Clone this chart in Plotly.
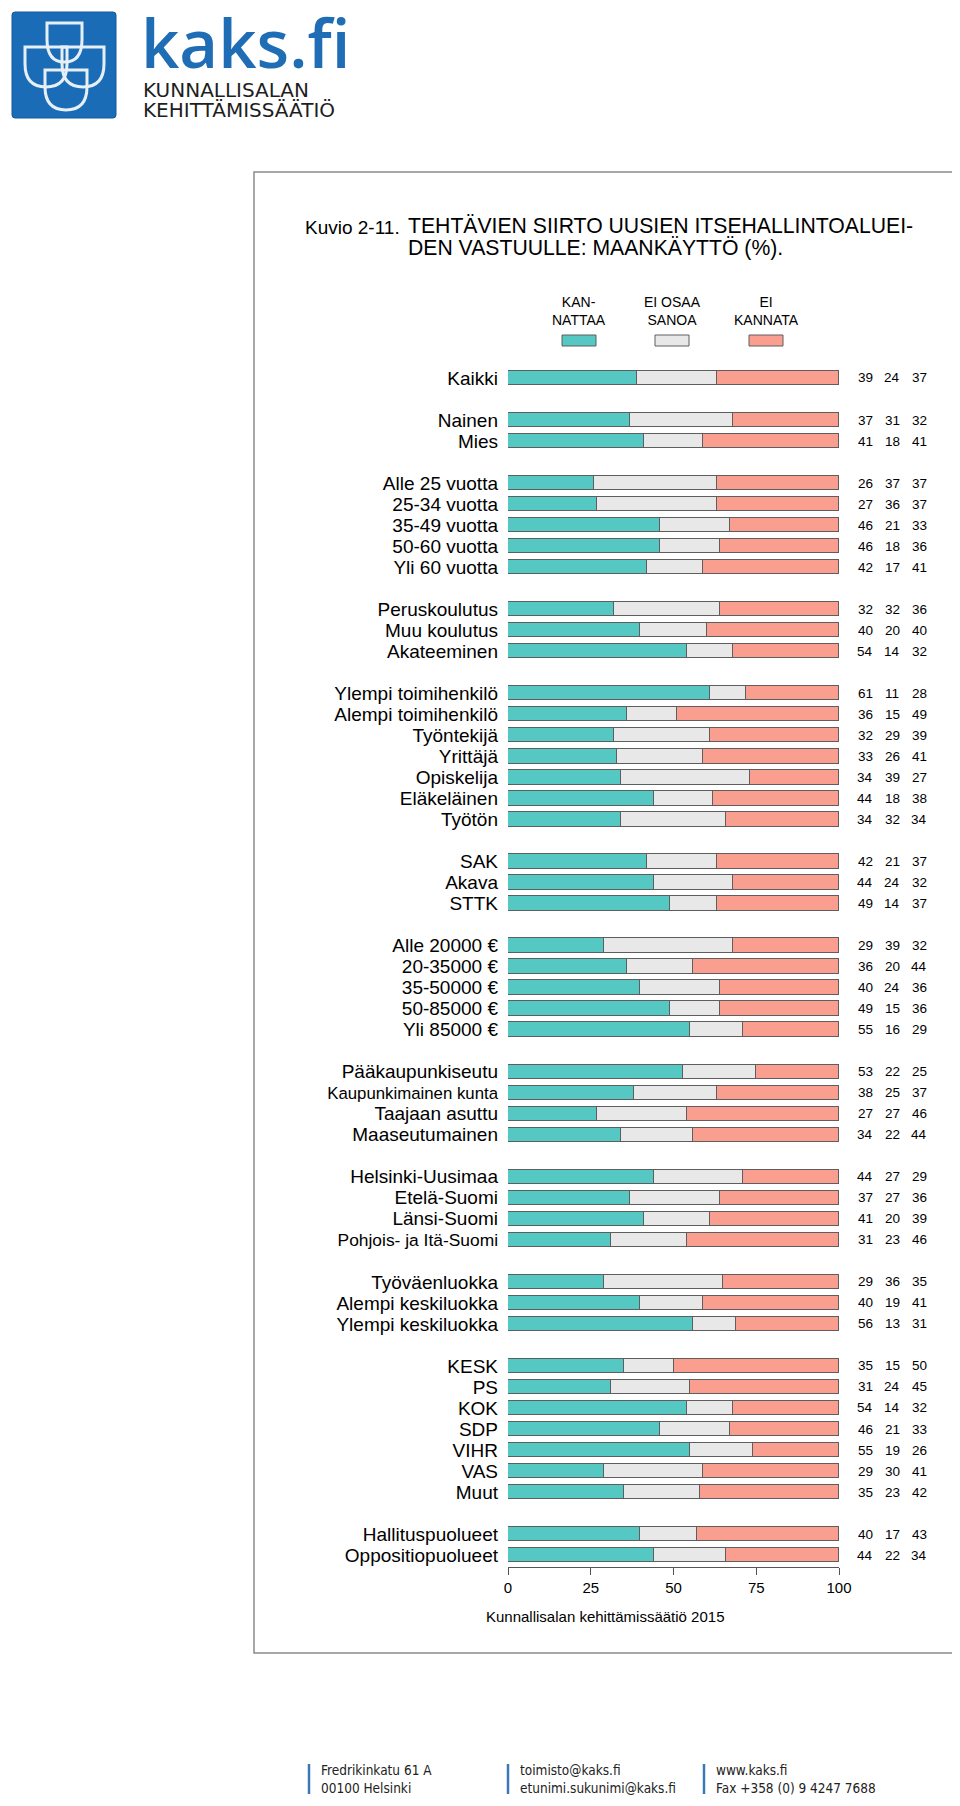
import plotly.graph_objects as go

# ---------------- data ----------------
categories = [
    "Kaikki",
    "Nainen", "Mies",
    "Alle 25 vuotta", "25-34 vuotta", "35-49 vuotta", "50-60 vuotta", "Yli 60 vuotta",
    "Peruskoulutus", "Muu koulutus", "Akateeminen",
    "Ylempi toimihenkilö", "Alempi toimihenkilö", "Työntekijä", "Yrittäjä", "Opiskelija", "Eläkeläinen", "Työtön",
    "SAK", "Akava", "STTK",
    "Alle 20000 €", "20-35000 €", "35-50000 €", "50-85000 €", "Yli 85000 €",
    "Pääkaupunkiseutu", "Kaupunkimainen kunta", "Taajaan asuttu", "Maaseutumainen",
    "Helsinki-Uusimaa", "Etelä-Suomi", "Länsi-Suomi", "Pohjois- ja Itä-Suomi",
    "Työväenluokka", "Alempi keskiluokka", "Ylempi keskiluokka",
    "KESK", "PS", "KOK", "SDP", "VIHR", "VAS", "Muut",
    "Hallituspuolueet", "Oppositiopuolueet",
]
group_sizes = [1, 2, 5, 3, 7, 3, 5, 4, 4, 3, 7, 2]
# labels that are set narrower in the original (to fit the label column)
small_labels = {"Kaupunkimainen kunta": 16.8, "Pohjois- ja Itä-Suomi": 17.4}

kannattaa = [39, 37, 41, 26, 27, 46, 46, 42, 32, 40, 54, 61, 36, 32, 33, 34, 44, 34,
             42, 44, 49, 29, 36, 40, 49, 55, 53, 38, 27, 34, 44, 37, 41, 31,
             29, 40, 56, 35, 31, 54, 46, 55, 29, 35, 40, 44]
ei_osaa = [24, 31, 18, 37, 36, 21, 18, 17, 32, 20, 14, 11, 15, 29, 26, 39, 18, 32,
           21, 24, 14, 39, 20, 24, 15, 16, 22, 25, 27, 22, 27, 27, 20, 23,
           36, 19, 13, 15, 24, 14, 21, 19, 30, 23, 17, 22]
ei_kannata = [37, 32, 41, 37, 37, 33, 36, 41, 36, 40, 32, 28, 49, 39, 41, 27, 38, 34,
              37, 32, 37, 32, 44, 36, 36, 29, 25, 37, 46, 44, 29, 36, 39, 46,
              35, 41, 31, 50, 45, 32, 33, 26, 41, 42, 43, 34]

series_names = ["KAN-<br>NATTAA", "EI OSAA<br>SANOA", "EI<br>KANNATA"]
series_colors = ["#55C8C4", "#E8E8E8", "#FA9E90"]
x_ticks = [0, 25, 50, 75, 100]

title_prefix = "Kuvio 2-11."
title_lines = ["TEHTÄVIEN SIIRTO UUSIEN ITSEHALLINTOALUEI-", "DEN VASTUULLE: MAANKÄYTTÖ (%)."]
source_text = "Kunnallisalan kehittämissäätiö 2015"
footer_blocks = [["Fredrikinkatu 61 A", "00100 Helsinki"],
                 ["toimisto@kaks.fi", "etunimi.sukunimi@kaks.fi"],
                 ["www.kaks.fi", "Fax +358 (0) 9 4247 7688"]]

# ---------------- layout geometry ----------------
# page has an 8px body margin -> figure is placed at (8, 8)
OFF = 8
W, H = 960 - OFF, 1806 - OFF
PLOT_X0, PLOT_X1 = 508, 839          # page px of 0 and 100
PLOT_Y0, PLOT_Y1 = 360, 1567         # page px of plot top / axis line
L, R = PLOT_X0 - OFF, W - (PLOT_X1 - OFF)
T, B = PLOT_Y0 - OFF, H - (PLOT_Y1 - OFF)
PW, PH = W - L - R, H - T - B
ROW0_PX = 378.0
STEP_PX = 21.02
y_top = (PLOT_Y0 - ROW0_PX) / STEP_PX
y_bot = (PLOT_Y1 - ROW0_PX) / STEP_PX


def px(xp):
    return (xp - OFF - L) / PW


def py(yp):
    return (H - B - (yp - OFF)) / PH


rows = []
slot = 0
for g in group_sizes:
    for _ in range(g):
        rows.append(slot)
        slot += 1
    slot += 1

tick_text = [f'<span style="font-size:{small_labels[c]}px">{c}</span>' if c in small_labels else c
             for c in categories]

FONT = "Arial, Liberation Sans, sans-serif"

fig = go.Figure()
for name, vals, col in zip(series_names, [kannattaa, ei_osaa, ei_kannata], series_colors):
    fig.add_trace(go.Bar(
        y=rows, x=vals, orientation="h", name=name,
        marker=dict(color=col, line=dict(color="#5E5E5E", width=1)),
        width=0.68, showlegend=False, hoverinfo="x",
    ))

annotations = []
shapes = []


def row_py(r):
    return ROW0_PX + r * STEP_PX


# value labels (placed in paper space to the right of the plot)
col_px = [865, 892, 919]
for r, a, b, c in zip(rows, kannattaa, ei_osaa, ei_kannata):
    for cx, v in zip(col_px, [a, b, c]):
        annotations.append(dict(x=px(cx), y=py(row_py(r)), xref="paper", yref="paper", text=str(v),
                                showarrow=False, xanchor="center", yanchor="middle",
                                font=dict(family=FONT, size=13.5, color="#000")))

# legend
leg_cx = [579, 672, 766]
for cx, name, col in zip(leg_cx, series_names, series_colors):
    annotations.append(dict(x=px(cx), y=py(311), xref="paper", yref="paper", text=name,
                            showarrow=False, xanchor="center", yanchor="middle",
                            font=dict(family=FONT, size=14, color="#000")))
    shapes.append(dict(type="rect", xref="paper", yref="paper",
                       x0=px(cx - 17), x1=px(cx + 17), y0=py(346), y1=py(335),
                       fillcolor=col, line=dict(color="#5E5E5E", width=1)))

# title
annotations.append(dict(x=px(303), y=py(227), xref="paper", yref="paper", text=title_prefix,
                        showarrow=False, xanchor="left", yanchor="middle",
                        font=dict(family=FONT, size=19, color="#000")))
for i, line in enumerate(title_lines):
    annotations.append(dict(x=px(406), y=py(226 + 22 * i), xref="paper", yref="paper", text=line,
                            showarrow=False, xanchor="left", yanchor="middle", align="left",
                            font=dict(family=FONT, size=21.2, color="#000")))
# source
annotations.append(dict(x=px(605), y=py(1616), xref="paper", yref="paper", text=source_text,
                        showarrow=False, xanchor="center", yanchor="middle",
                        font=dict(family=FONT, size=15, color="#000")))

# frame
shapes.append(dict(type="rect", xref="paper", yref="paper",
                   x0=px(254), x1=px(957), y0=py(1653), y1=py(172),
                   line=dict(color="#8A8A8A", width=1.5), fillcolor="rgba(0,0,0,0)", layer="below"))


def rpath(x0, y0, x1, y1, rr):
    return (f"M {px(x0 + rr)},{py(y0)} L {px(x1 - rr)},{py(y0)} Q {px(x1)},{py(y0)} {px(x1)},{py(y0 + rr)} "
            f"L {px(x1)},{py(y1 - rr)} Q {px(x1)},{py(y1)} {px(x1 - rr)},{py(y1)} "
            f"L {px(x0 + rr)},{py(y1)} Q {px(x0)},{py(y1)} {px(x0)},{py(y1 - rr)} "
            f"L {px(x0)},{py(y0 + rr)} Q {px(x0)},{py(y0)} {px(x0 + rr)},{py(y0)} Z")


shapes.append(dict(type="path", xref="paper", yref="paper", path=rpath(12, 12, 116, 118, 3),
                   fillcolor="#1A6CB7", line=dict(color="#15599A", width=1)))


def shield(x0, y0, x1, y1):
    ym = y0 + (y1 - y0) * 0.42
    xc = (x0 + x1) / 2
    return (f"M {px(x0)},{py(y0)} L {px(x1)},{py(y0)} L {px(x1)},{py(ym)} "
            f"Q {px(x1)},{py(y1)} {px(xc)},{py(y1)} Q {px(x0)},{py(y1)} {px(x0)},{py(ym)} Z")


for sx0, sy0, sx1, sy1 in [(47, 23, 82, 62), (25, 47, 67, 87), (62, 47, 104, 87), (45, 70, 87, 110)]:
    shapes.append(dict(type="path", xref="paper", yref="paper", path=shield(sx0, sy0, sx1, sy1),
                       fillcolor="rgba(0,0,0,0)", line=dict(color="#E6EEF6", width=3)))

annotations.append(dict(x=px(139), y=py(42), xref="paper", yref="paper", text="kaks.fi",
                        showarrow=False, xanchor="left", yanchor="middle",
                        font=dict(family="Open Sans, Noto Sans, sans-serif", size=67, color="#1F6DB5",
                                  weight=600)))
annotations.append(dict(x=px(141), y=py(90), xref="paper", yref="paper", text="KUNNALLISALAN",
                        showarrow=False, xanchor="left", yanchor="middle",
                        font=dict(family="DejaVu Sans, sans-serif", size=20, color="#1E1E1E")))
annotations.append(dict(x=px(141), y=py(110), xref="paper", yref="paper", text="KEHITTÄMISSÄÄTIÖ",
                        showarrow=False, xanchor="left", yanchor="middle",
                        font=dict(family="DejaVu Sans, sans-serif", size=20, color="#1E1E1E")))

# footer
foot_x = [309, 508, 704]
for fx, lines in zip(foot_x, footer_blocks):
    shapes.append(dict(type="line", xref="paper", yref="paper",
                       x0=px(fx), x1=px(fx), y0=py(1764), y1=py(1794),
                       line=dict(color="#3B78B8", width=2.5)))
    annotations.append(dict(x=px(fx + 10), y=py(1779), xref="paper", yref="paper",
                            text="<br>".join(lines), showarrow=False, xanchor="left",
                            yanchor="middle", align="left",
                            font=dict(family="DejaVu Sans Condensed, sans-serif",
                                      size=13.5, color="#222")))

fig.update_layout(
    width=W, height=H,
    margin=dict(l=L, r=R, t=T, b=B, pad=0),
    barmode="stack", bargap=0,
    paper_bgcolor="white", plot_bgcolor="white",
    showlegend=False,
    annotations=annotations, shapes=shapes,
    font=dict(family=FONT, color="#000"),
    xaxis=dict(range=[0, 100], tickvals=x_ticks, ticktext=[str(t) for t in x_ticks],
               showgrid=False, zeroline=False, showline=True, linecolor="#555", linewidth=1,
               ticks="outside", ticklen=7, tickcolor="#555", tickwidth=1,
               tickfont=dict(family=FONT, size=15, color="#000"), fixedrange=True),
    yaxis=dict(range=[y_bot, y_top], tickvals=rows, ticktext=tick_text,
               showgrid=False, zeroline=False, showline=False, ticks="",
               ticklabelstandoff=9,
               tickfont=dict(family=FONT, size=19, color="#000"), fixedrange=True),
)

fig.write_html("out.html")
